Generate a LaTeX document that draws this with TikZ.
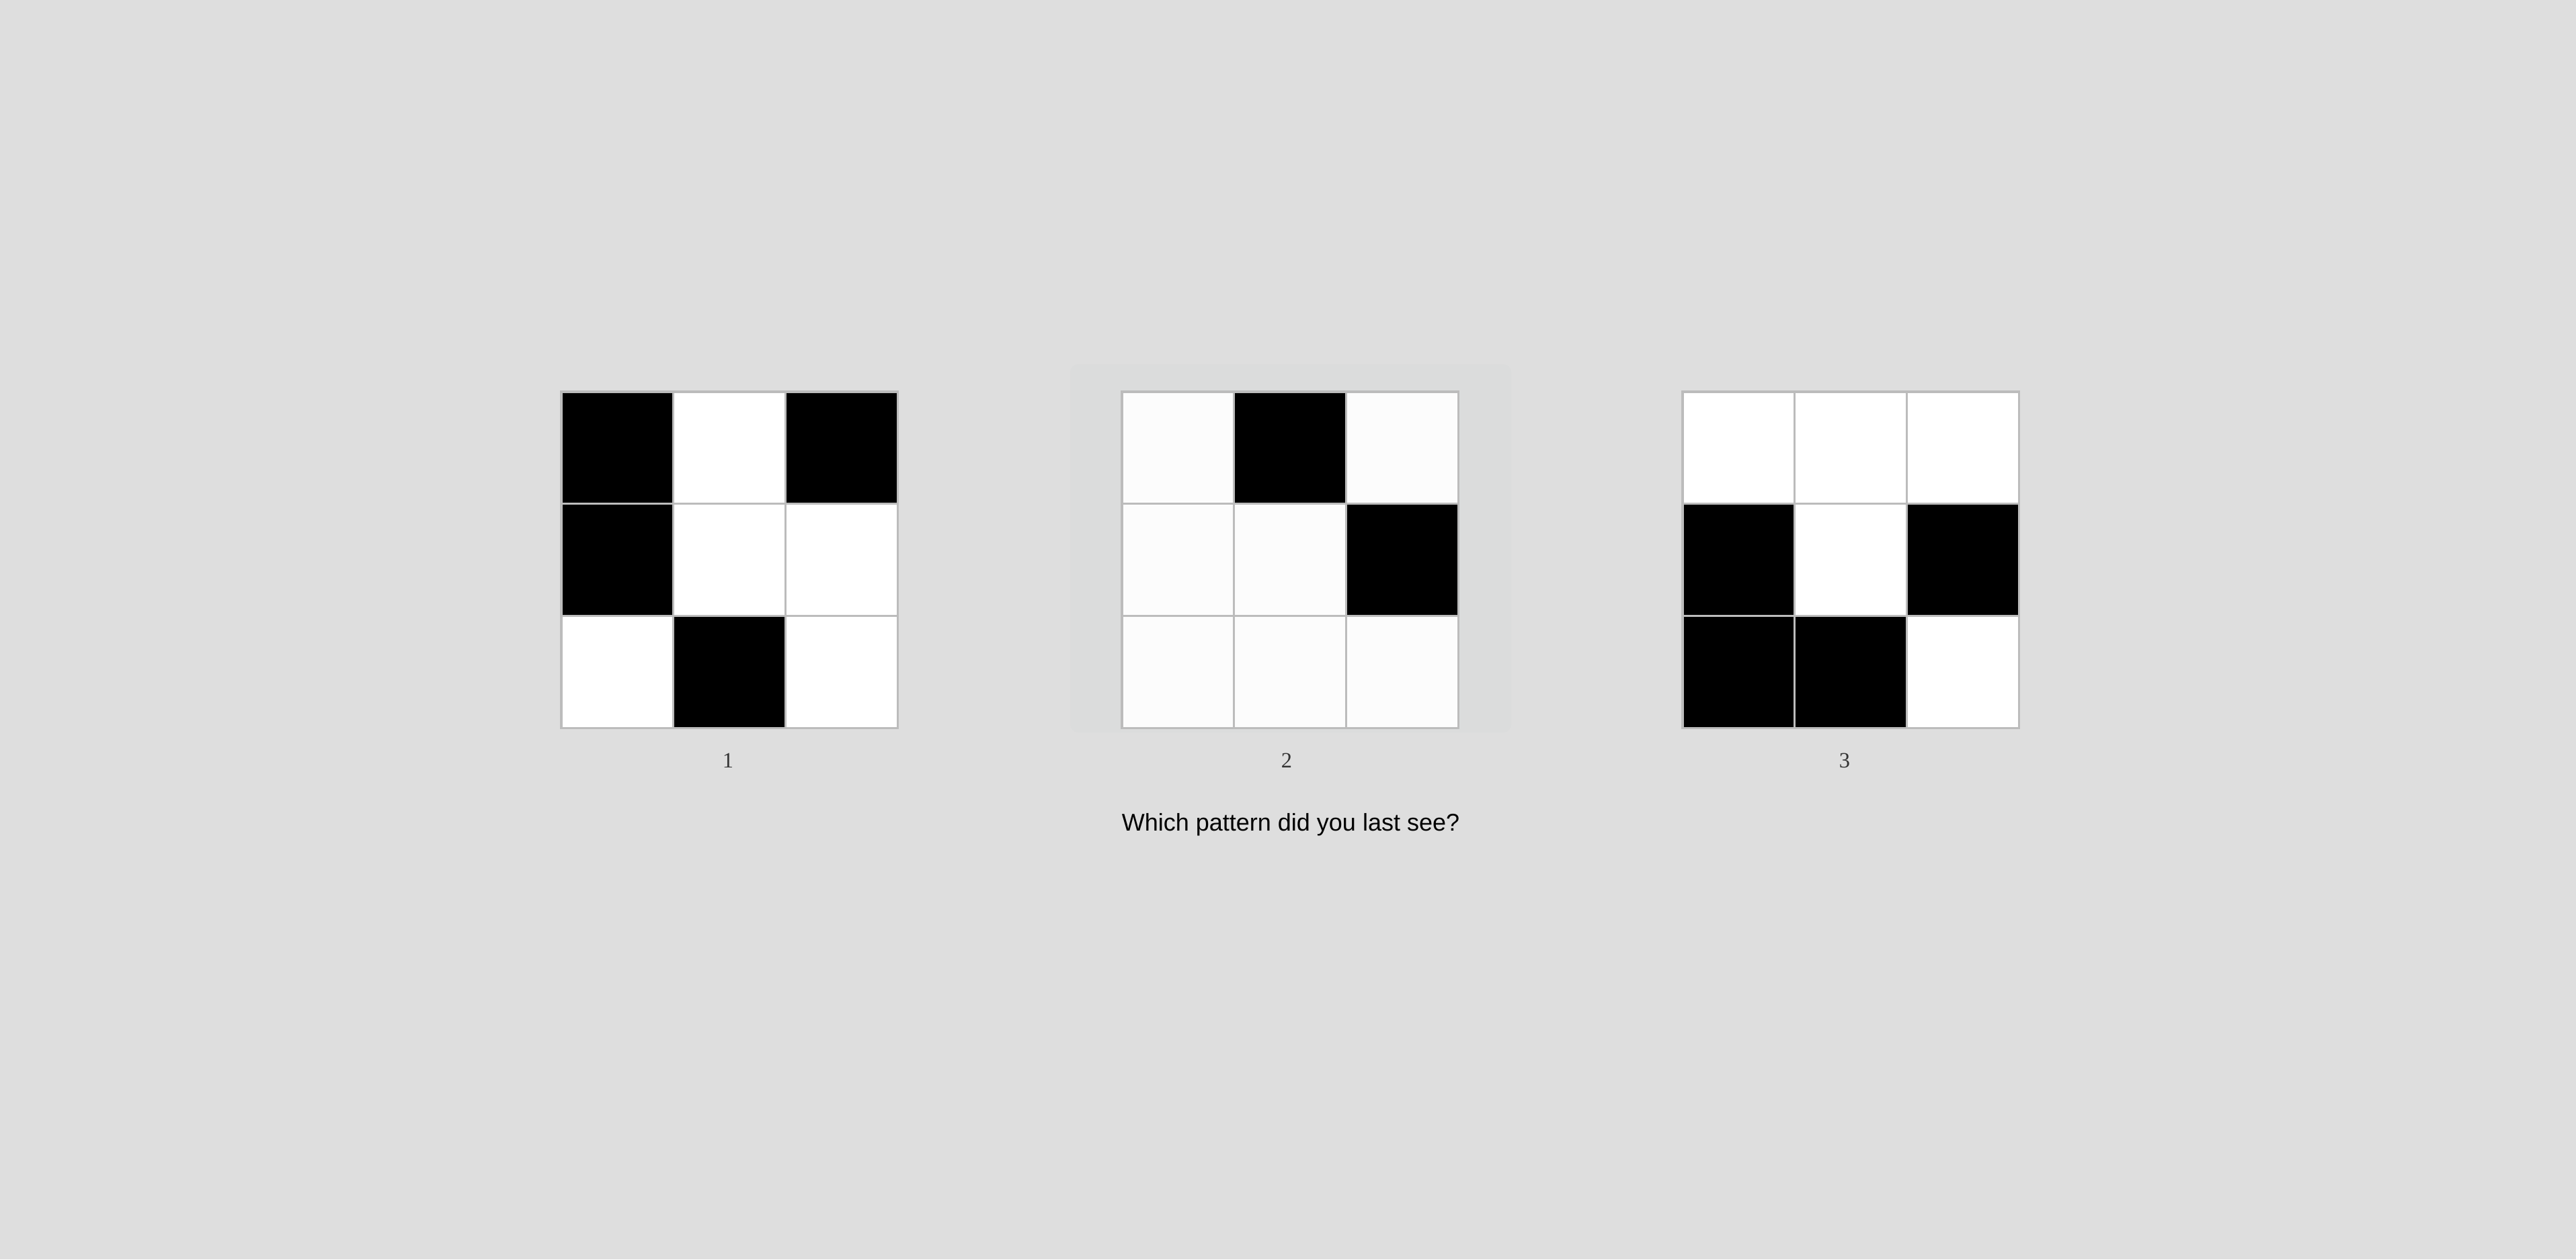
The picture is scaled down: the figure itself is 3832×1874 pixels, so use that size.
\documentclass[tikz,border=0pt]{standalone}
\usepackage{fontspec}
\setmainfont{Liberation Sans}
\newfontfamily\digitfont{Liberation Serif}
\usepackage{tikz}
\definecolor{bg}{RGB}{222, 222, 222}
\definecolor{panel}{RGB}{219, 220, 220}
\definecolor{edge}{RGB}{188, 188, 188}
\definecolor{numgray}{RGB}{51, 51, 51}
\definecolor{paper}{RGB}{252, 252, 252}

\begin{document}
\begin{tikzpicture}[x=0.25pt, y=-0.25pt,
  cell/.style={draw=edge, line width=0.8pt},
  numlabel/.style={text=numgray, font=\digitfont\fontsize{8.1}{10}\selectfont},
  question/.style={anchor=base, font=\fontsize{9}{11}\selectfont}]
  \fill [bg] (0, 0) rectangle (3832, 1874);
  \useasboundingbox (0, 0) rectangle (3832, 1874);

  % Pattern 1
  \pgfmathsetmacro{\dx}{835}
  \foreach \f [count=\i from 0] in {black, white, black, black, white, white, white, black, white} {
    \pgfmathtruncatemacro{\col}{mod(\i, 3)}
    \pgfmathtruncatemacro{\row}{div(\i, 3)}
    \filldraw [cell, fill=\f] (\dx + 166.7*\col, 583 + 166.7*\row) rectangle ++(166.7, 166.7);
  }
  \node [numlabel] (num1) at (1083, 1132) {1};

  % Pattern 2
  \pgfmathsetmacro{\dx}{1669}
  \fill [rounded corners=3pt, color=panel] (1592, 542) rectangle (2248, 1090);
  \foreach \f [count=\i from 0] in {paper, black, paper, paper, paper, black, paper, paper, paper} {
    \pgfmathtruncatemacro{\col}{mod(\i, 3)}
    \pgfmathtruncatemacro{\row}{div(\i, 3)}
    \filldraw [cell, fill=\f] (\dx + 166.7*\col, 583 + 166.7*\row) rectangle ++(166.7, 166.7);
  }
  \node [numlabel] (num2) at (1914, 1132) {2};

  % Pattern 3
  \pgfmathsetmacro{\dx}{2503}
  \foreach \f [count=\i from 0] in {white, white, white, black, white, black, black, black, white} {
    \pgfmathtruncatemacro{\col}{mod(\i, 3)}
    \pgfmathtruncatemacro{\row}{div(\i, 3)}
    \filldraw [cell, fill=\f] (\dx + 166.7*\col, 583 + 166.7*\row) rectangle ++(166.7, 166.7);
  }
  \node [numlabel] (num3) at (2744, 1132) {3};

  % Question
  \node [question] (ask) at (1920, 1236) {Which pattern did you last see?};
\end{tikzpicture}
\end{document}
